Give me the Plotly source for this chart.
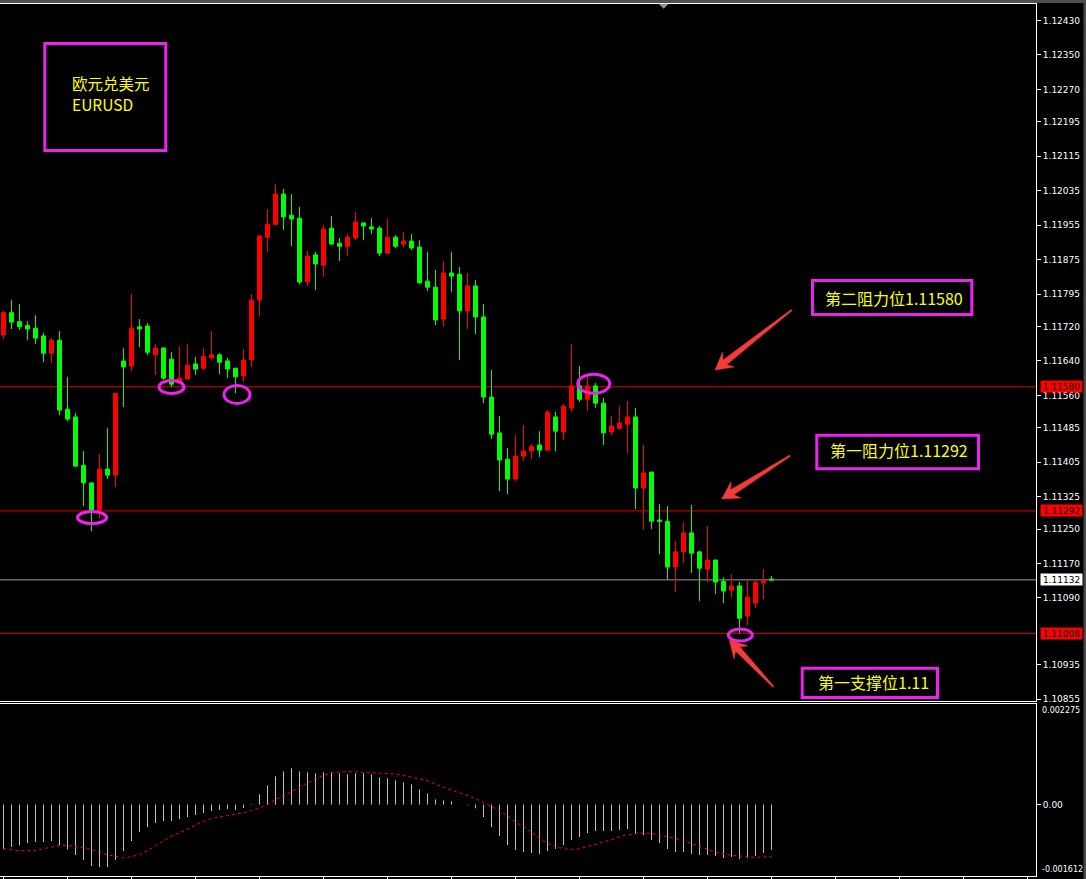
import math
import plotly.graph_objects as go

# ---------------- EURUSD candles (oldest -> newest) ----------------
opens = [
    1.11700, 1.11752, 1.11731, 1.11722, 1.11716, 1.11698, 1.11658, 1.11688, 1.11528, 1.11510,
    1.11398, 1.11357, 1.11294, 1.11389, 1.11375, 1.11640, 1.11628, 1.11719, 1.11721, 1.11654,
    1.11670, 1.11644, 1.11591, 1.11598, 1.11633, 1.11623, 1.11647, 1.11654, 1.11640, 1.11623,
    1.11605, 1.11642, 1.11781, 1.11927, 1.11957, 1.12027, 1.11978, 1.11971, 1.11823, 1.11886,
    1.11862, 1.11948, 1.11913, 1.11906, 1.11925, 1.11960, 1.11951, 1.11948, 1.11890, 1.11927,
    1.11911, 1.11918, 1.11904, 1.11825, 1.11811, 1.11737, 1.11844, 1.11841, 1.11756, 1.11814,
    1.11742, 1.11556, 1.11473, 1.11412, 1.11366, 1.11419, 1.11431, 1.11445, 1.11433, 1.11510,
    1.11475, 1.11531, 1.11582, 1.11551, 1.11582, 1.11542, 1.11475, 1.11484, 1.11493, 1.11510,
    1.11345, 1.11382, 1.11271, 1.11268, 1.11162, 1.11197, 1.11241, 1.11197, 1.11157, 1.11178,
    1.11129, 1.11108, 1.11118, 1.11048, 1.11078, 1.11125, 1.11134,
]
highs = [
    1.11756, 1.11781, 1.11772, 1.11732, 1.11746, 1.11705, 1.11693, 1.11709, 1.11603, 1.11519,
    1.11431, 1.11358, 1.11424, 1.11484, 1.11566, 1.11670, 1.11795, 1.11737, 1.11728, 1.11679,
    1.11671, 1.11661, 1.11674, 1.11679, 1.11649, 1.11670, 1.11709, 1.11658, 1.11647, 1.11624,
    1.11668, 1.11795, 1.11932, 1.11992, 1.12050, 1.12039, 1.12027, 1.11997, 1.11895, 1.11893,
    1.11955, 1.11976, 1.11925, 1.11934, 1.11985, 1.11961, 1.11971, 1.11953, 1.11969, 1.11932,
    1.11939, 1.11934, 1.11920, 1.11893, 1.11851, 1.11872, 1.11893, 1.11858, 1.11844, 1.11828,
    1.11772, 1.11619, 1.11512, 1.11438, 1.11468, 1.11491, 1.11447, 1.11477, 1.11526, 1.11522,
    1.11540, 1.11679, 1.11628, 1.11605, 1.11589, 1.11554, 1.11512, 1.11535, 1.11547, 1.11531,
    1.11445, 1.11383, 1.11308, 1.11303, 1.11222, 1.11266, 1.11306, 1.11199, 1.11257, 1.11179,
    1.11138, 1.11145, 1.11127, 1.11132, 1.11129, 1.11157, 1.11141,
]
lows = [
    1.11691, 1.11714, 1.11712, 1.11688, 1.11679, 1.11637, 1.11635, 1.11514, 1.11500, 1.11394,
    1.11303, 1.11245, 1.11275, 1.11366, 1.11347, 1.11533, 1.11616, 1.11672, 1.11654, 1.11607,
    1.11596, 1.11579, 1.11586, 1.11596, 1.11607, 1.11619, 1.11646, 1.11609, 1.11600, 1.11565,
    1.11591, 1.11626, 1.11744, 1.11893, 1.11955, 1.11944, 1.11906, 1.11818, 1.11814, 1.11804,
    1.11835, 1.11910, 1.11872, 1.11883, 1.11920, 1.11920, 1.11934, 1.11883, 1.11888, 1.11902,
    1.11904, 1.11897, 1.11820, 1.11802, 1.11723, 1.11719, 1.11800, 1.11642, 1.11714, 1.11702,
    1.11542, 1.11459, 1.11338, 1.11331, 1.11361, 1.11408, 1.11412, 1.11417, 1.11432, 1.11430,
    1.11456, 1.11521, 1.11545, 1.11524, 1.11531, 1.11445, 1.11468, 1.11480, 1.11426, 1.11296,
    1.11248, 1.11250, 1.11192, 1.11132, 1.11104, 1.11171, 1.11148, 1.11083, 1.11127, 1.11099,
    1.11078, 1.11092, 1.11008, 1.11027, 1.11067, 1.11087, 1.11129,
]
closes = [
    1.11752, 1.11730, 1.11719, 1.11714, 1.11693, 1.11658, 1.11688, 1.11526, 1.11505, 1.11396,
    1.11357, 1.11294, 1.11389, 1.11375, 1.11565, 1.11626, 1.11716, 1.11714, 1.11660, 1.11670,
    1.11600, 1.11586, 1.11600, 1.11630, 1.11621, 1.11651, 1.11654, 1.11637, 1.11621, 1.11603,
    1.11642, 1.11781, 1.11930, 1.11957, 1.12027, 1.11974, 1.11969, 1.11823, 1.11883, 1.11865,
    1.11946, 1.11911, 1.11906, 1.11927, 1.11962, 1.11953, 1.11946, 1.11890, 1.11927, 1.11906,
    1.11918, 1.11902, 1.11821, 1.11811, 1.11735, 1.11844, 1.11837, 1.11756, 1.11814, 1.11742,
    1.11556, 1.11470, 1.11410, 1.11366, 1.11419, 1.11431, 1.11442, 1.11433, 1.11521, 1.11477,
    1.11535, 1.11582, 1.11551, 1.11582, 1.11542, 1.11473, 1.11489, 1.11496, 1.11510, 1.11345,
    1.11380, 1.11268, 1.11268, 1.11162, 1.11197, 1.11241, 1.11194, 1.11159, 1.11178, 1.11127,
    1.11106, 1.11118, 1.11043, 1.11092, 1.11127, 1.11130, 1.11132,
]

# ---------------- MACD sub-window ----------------
macd_main = [
    -0.001010, -0.000956, -0.000919, -0.000866, -0.000843, -0.000843, -0.000821, -0.000919, -0.001009, -0.001137,
    -0.001250, -0.001386, -0.001408, -0.001408, -0.001250, -0.001047, -0.000821, -0.000617, -0.000505, -0.000414,
    -0.000369, -0.000369, -0.000324, -0.000279, -0.000233, -0.000188, -0.000143, -0.000120, -0.000098, -0.000120,
    -0.000075, 0.000010, 0.000233, 0.000437, 0.000640, 0.000753, 0.000821, 0.000753, 0.000730, 0.000708,
    0.000730, 0.000730, 0.000708, 0.000685, 0.000708, 0.000708, 0.000685, 0.000617, 0.000595, 0.000550,
    0.000505, 0.000459, 0.000346, 0.000256, 0.000120, 0.000098, 0.000075, 0.000003, -0.000010, -0.000083,
    -0.000279, -0.000505, -0.000708, -0.000911, -0.001024, -0.001069, -0.001092, -0.001114, -0.001047, -0.001001,
    -0.000911, -0.000798, -0.000730, -0.000640, -0.000595, -0.000595, -0.000595, -0.000572, -0.000550, -0.000663,
    -0.000685, -0.000798, -0.000866, -0.001001, -0.001069, -0.001069, -0.001114, -0.001137, -0.001137, -0.001160,
    -0.001205, -0.001182, -0.001227, -0.001205, -0.001160, -0.001092, -0.001024,
]
macd_signal = [
    -0.000994, -0.001017, -0.001039, -0.001039, -0.001032, -0.000994, -0.000964, -0.000926, -0.000926, -0.000949,
    -0.000971, -0.001017, -0.001084, -0.001130, -0.001175, -0.001205, -0.001175, -0.001130, -0.001039, -0.000934,
    -0.000821, -0.000708, -0.000633, -0.000542, -0.000452, -0.000377, -0.000316, -0.000271, -0.000248, -0.000218,
    -0.000181, -0.000136, -0.000075, 0.0000075, 0.000120, 0.000196, 0.000294, 0.000392, 0.000489, 0.000587,
    0.000663, 0.000715, 0.000738, 0.000745, 0.000745, 0.000730, 0.000723, 0.000708, 0.000700, 0.000693,
    0.000663, 0.000625, 0.000587, 0.000542, 0.000467, 0.000392, 0.000324, 0.000271, 0.000211, 0.000136,
    0.000045, -0.000045, -0.000136, -0.000256, -0.000392, -0.000497, -0.000617, -0.000768, -0.000873, -0.000949,
    -0.000994, -0.001017, -0.000994, -0.000949, -0.000904, -0.000843, -0.000791, -0.000723, -0.000678, -0.000655,
    -0.000640, -0.000648, -0.000685, -0.000723, -0.000753, -0.000806, -0.000873, -0.000949, -0.001009, -0.001069,
    -0.001107, -0.001145, -0.001160, -0.001182, -0.001190, -0.001182, -0.001175,
]
macd_scale_max = 0.002275
macd_scale_min = -0.001612

# ---------------- price scale / levels ----------------
price_ticks = [1.12430, 1.12350, 1.12270, 1.12195, 1.12115, 1.12035, 1.11955, 1.11875,
               1.11795, 1.11720, 1.11640, 1.11560, 1.11485, 1.11405, 1.11325, 1.11250,
               1.11170, 1.11090, 1.10935, 1.10855]
resist_2 = 1.11580
resist_1 = 1.11292
support_line = 1.11008
support_text = "1.11"
bid_price = closes[-1]

title_lines = ["欧元兑美元", "EURUSD"]
resist_2_text = "第二阻力位"
resist_1_text = "第一阻力位"
support_name = "第一支撑位"

# ---------------- geometry helpers (figure pixels -> paper) ----------------
FIG_W, FIG_H = 1086, 879
M_L, M_R, M_T, M_B = 0, 50, 4, 3
PLOT_W = FIG_W - M_L - M_R
PLOT_H = FIG_H - M_T - M_B


def px(x):
    return (x - M_L) / PLOT_W


def py(y):
    return (FIG_H - M_B - y) / PLOT_H


MAIN_BOTTOM, SUB_TOP = 701, 704
BAR_STEP = 8.0                     # pixels per bar
FIRST_BAR_PX = 3.5                 # centre of first bar
x_lo = -FIRST_BAR_PX / BAR_STEP
x_hi = x_lo + PLOT_W / BAR_STEP

BULL = "#FF0000"
BEAR = "#00FF00"
MAGENTA = "#EE22EE"
YELLOW = "#FFFF00"
ARROW_RED = "#F23C3C"
CJK = "Noto Sans CJK SC"
AXFONT = dict(family="DejaVu Sans", size=9, color="#FFFFFF")
SMALLFONT = dict(family="DejaVu Sans", size=8, color="#FFFFFF")

idx = list(range(len(closes)))

fig = go.Figure()

fig.add_trace(go.Candlestick(
    x=idx, open=opens, high=highs, low=lows, close=closes,
    increasing=dict(line=dict(color=BULL, width=1), fillcolor=BULL),
    decreasing=dict(line=dict(color=BEAR, width=1), fillcolor=BEAR),
    whiskerwidth=0, showlegend=False, hoverinfo="skip",
    xaxis="x", yaxis="y",
))

# MACD histogram as thin vertical strokes
hx, hy = [], []
for i, v in zip(idx, macd_main):
    hx += [i, i, None]
    hy += [0, v, None]
fig.add_trace(go.Scatter(
    x=hx, y=hy, mode="lines", line=dict(color="#C0C0C0", width=1),
    showlegend=False, hoverinfo="skip", xaxis="x2", yaxis="y2",
))
fig.add_trace(go.Scatter(
    x=idx, y=macd_signal, mode="lines",
    line=dict(color="#FF0000", width=1, dash="3px,3px"),
    showlegend=False, hoverinfo="skip", xaxis="x2", yaxis="y2",
))

main_dom = [py(MAIN_BOTTOM), 1.0]
sub_dom = [0.0, py(SUB_TOP)]

fig.update_layout(
    width=FIG_W, height=FIG_H,
    margin=dict(l=M_L, r=M_R, t=M_T, b=M_B, pad=0),
    paper_bgcolor="#000000", plot_bgcolor="#000000",
    showlegend=False, boxgap=0.5, boxgroupgap=0,
    xaxis=dict(domain=[0, 1], anchor="y", range=[x_lo, x_hi],
               showgrid=False, zeroline=False, showticklabels=False,
               showline=True, linecolor="#FFFFFF", linewidth=1, mirror=True,
               ticks="", rangeslider=dict(visible=False), fixedrange=True),
    yaxis=dict(domain=main_dom, anchor="x", side="right",
               range=[1.10851, 1.12468],
               tickmode="array", tickvals=price_ticks,
               ticktext=[f"{v:.5f}" for v in price_ticks],
               ticks="outside", ticklen=4, tickcolor="#FFFFFF", tickwidth=1,
               tickfont=AXFONT, showgrid=False, zeroline=False,
               showline=True, linecolor="#FFFFFF", linewidth=1, fixedrange=True),
    xaxis2=dict(domain=[0, 1], anchor="y2", range=[x_lo, x_hi],
                showgrid=False, zeroline=False, showticklabels=False,
                showline=True, linecolor="#FFFFFF", linewidth=1, mirror=True,
                ticks="outside", ticklen=3, tickcolor="#FFFFFF",
                tickmode="array", tickvals=list(range(0, 130, 8)), fixedrange=True),
    yaxis2=dict(domain=sub_dom, anchor="x2", side="right",
                range=[macd_scale_min, macd_scale_max],
                tickmode="array", tickvals=[0], ticktext=["0.00"],
                ticks="outside", ticklen=4, tickcolor="#FFFFFF",
                tickfont=AXFONT, showgrid=False, zeroline=False,
                showline=True, linecolor="#FFFFFF", linewidth=1, fixedrange=True),
)

shapes = []
annotations = []

# window chrome: grey strip on top and right edge
shapes.append(dict(type="rect", xref="paper", yref="paper",
                   x0=px(0), x1=px(FIG_W), y0=py(3), y1=py(0),
                   fillcolor="#505050", line=dict(width=0), layer="above"))
shapes.append(dict(type="rect", xref="paper", yref="paper",
                   x0=px(1083.5), x1=px(FIG_W), y0=py(FIG_H), y1=py(0),
                   fillcolor="#4a4a4a", line=dict(width=0), layer="above"))
# chart-shift marker
shapes.append(dict(type="path", xref="paper", yref="paper",
                   xsizemode="pixel", ysizemode="pixel",
                   xanchor=px(663.7), yanchor=py(3.7),
                   path="M -5,0 L 5,0 L 0,-5 Z",
                   fillcolor="#8a96a2", line=dict(width=0), layer="above"))

# horizontal levels
for lvl in (resist_2, resist_1, support_line):
    shapes.append(dict(type="line", xref="x domain", x0=0, x1=1, yref="y",
                       y0=lvl, y1=lvl, line=dict(color="#E00000", width=1),
                       layer="below"))
shapes.append(dict(type="line", xref="x domain", x0=0, x1=1, yref="y",
                   y0=bid_price, y1=bid_price,
                   line=dict(color="#9A9A9A", width=1), layer="below"))

# price tags on the scale
for lvl, bg in ((resist_2, "#FF0000"), (resist_1, "#FF0000"),
                (support_line, "#FF0000"), (bid_price, "#FFFFFF")):
    annotations.append(dict(
        xref="paper", x=px(1040), xanchor="left",
        yref="y", y=lvl, yanchor="middle",
        text=f"{lvl:.5f}", showarrow=False, bgcolor=bg,
        font=dict(family="DejaVu Sans", size=9, color="#000000"),
        width=41, height=11, borderpad=0, align="center",
    ))

# MACD scale extremes
annotations.append(dict(xref="paper", x=px(1041), xanchor="left",
                        yref="paper", y=py(710), yanchor="middle",
                        text=f"{macd_scale_max:.6f}", showarrow=False,
                        font=SMALLFONT, borderpad=0))
annotations.append(dict(xref="paper", x=px(1041), xanchor="left",
                        yref="paper", y=py(869), yanchor="middle",
                        text=f"{macd_scale_min:.6f}", showarrow=False,
                        font=SMALLFONT, borderpad=0))


def frame(x0, x1, y0, y1):
    return dict(type="rect", xref="paper", yref="paper",
                x0=px(x0), x1=px(x1), y0=py(y1), y1=py(y0),
                line=dict(color=MAGENTA, width=3), fillcolor="rgba(0,0,0,0)",
                layer="above")


def label(x_left, y_mid, text, size=16):
    return dict(xref="paper", x=px(x_left), xanchor="left",
                yref="paper", y=py(y_mid), yanchor="middle",
                text=text, showarrow=False, align="left", borderpad=0,
                font=dict(family=CJK, size=size, color=YELLOW))


# title box
shapes.append(frame(44.8, 165.8, 43.5, 150.5))
annotations.append(label(70.7, 83, title_lines[0], size=15.5))
annotations.append(label(70.7, 104, title_lines[1], size=15.5))

# level call-out boxes
shapes.append(frame(812.5, 971.8, 280.5, 314.5))
annotations.append(label(824, 298.3, f"{resist_2_text}{resist_2:.5f}"))
shapes.append(frame(816.8, 978.5, 435.2, 468.8))
annotations.append(label(829, 450.3, f"{resist_1_text}{resist_1:.5f}"))
shapes.append(frame(802.2, 937.5, 668.2, 697.5))
annotations.append(label(817, 682, f"{support_name}{support_text}"))

# highlight rings (centre x, centre y, width, height in pixels)
rings = [(92, 517.5, 29, 12), (171.5, 387, 25, 13), (237, 394.5, 26, 18),
         (593.7, 383.8, 32, 19), (740.3, 635, 24, 12)]
for cx, cy, w, h in rings:
    shapes.append(dict(type="circle", xref="paper", yref="paper",
                       xsizemode="pixel", ysizemode="pixel",
                       xanchor=px(cx), yanchor=py(cy),
                       x0=-w / 2, x1=w / 2, y0=-h / 2, y1=h / 2,
                       line=dict(color=MAGENTA, width=3), layer="above"))


def arrow_path(dx, dy):
    """Tapered arrow: tip at the anchor, tail at (dx, dy) screen pixels."""
    length = math.hypot(dx, dy)
    ux, uy = dx / length, dy / length
    nx, ny = -uy, ux
    pts = [(0, 0), (17, 9.5), (12.5, 3), (length, 0.7),
           (length, -0.7), (12.5, -3), (17, -9.5)]
    coords = [(a * ux + p * nx, -(a * uy + p * ny)) for a, p in pts]
    return "M " + " L ".join(f"{x:.2f},{y:.2f}" for x, y in coords) + " Z"


arrows = [((715, 370), (791.7, 310)),
          ((721.7, 499), (790, 455.7)),
          ((729.3, 640), (773.3, 686.7))]
for (tx, ty), (sx, sy) in arrows:
    shapes.append(dict(type="path", xref="paper", yref="paper",
                       xsizemode="pixel", ysizemode="pixel",
                       xanchor=px(tx), yanchor=py(ty),
                       path=arrow_path(sx - tx, sy - ty),
                       fillcolor=ARROW_RED, line=dict(color=ARROW_RED, width=0.5),
                       layer="above"))

fig.update_layout(shapes=shapes, annotations=annotations)

fig.write_html("out.html", config={"displayModeBar": False},
               post_script="document.body.style.margin='0';")
